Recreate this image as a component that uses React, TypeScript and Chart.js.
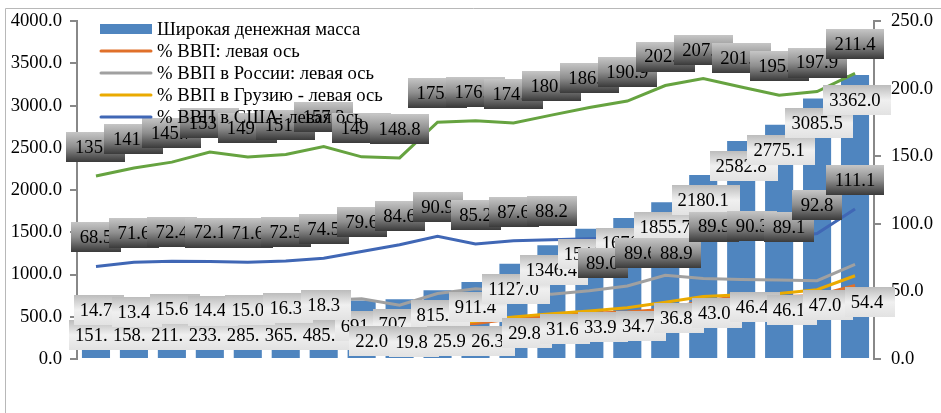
import React, { useEffect, useRef } from "react";
import { Chart, registerables } from "chart.js";

Chart.register(...registerables);

// ---------- data ----------
const categories = ["1", "2", "3", "4", "5", "6", "7", "8", "9", "10", "11", "12", "13", "14", "15", "16", "17", "18", "19", "20", "21"];

const broadMoney = [151.6, 158.3, 211.2, 233.8, 285.4, 365.1, 485.7, 691.5, 707.2, 815.5, 911.4, 1127.0, 1346.4, 1541.2, 1670.5, 1855.7, 2180.1, 2582.8, 2775.1, 3085.5, 3362.0];
const gdpShare = [14.7, 13.4, 15.6, 14.4, 15.0, 16.3, 18.3, 22.0, 19.8, 25.9, 26.3, 29.8, 31.6, 33.9, 34.7, 36.8, 43.0, 46.4, 46.1, 47.0, 54.4];
const gdpRussia = [38.0, 39.5, 40.2, 41.0, 41.8, 42.5, 43.5, 44.5, 39.8, 48.5, 52.0, 50.0, 48.0, 50.5, 54.0, 62.0, 59.5, 58.8, 58.5, 58.0, 70.0];
const gdpGeorgia = [12.1, 11.5, 13.0, 12.8, 13.9, 15.2, 17.0, 20.1, 21.3, 24.8, 28.0, 31.0, 33.5, 35.5, 38.0, 42.0, 46.3, 47.5, 48.4, 51.3, 61.6];
const gdpUSA = [68.5, 71.6, 72.4, 72.1, 71.6, 72.5, 74.5, 79.6, 84.6, 90.9, 85.2, 87.6, 88.2, 89.0, 89.6, 88.9, 89.9, 90.3, 89.1, 92.8, 111.1];
const broadMoneyIndex = [135.4, 141.3, 145.7, 153.2, 149.5, 151.4, 157.3, 149.6, 148.8, 175.3, 176.4, 174.6, 180.5, 186.2, 190.9, 202.4, 207.5, 201.3, 195.2, 197.9, 211.4];

const seriesNames = [
  "Широкая денежная масса",
  "% ВВП: левая ось",
  "% ВВП в России: левая ось",
  "% ВВП в Грузию - левая ось",
  "% ВВП в США: левая ось",
];

// ---------- styles ----------
const COLORS = {
  bar: "#4f85bf",
  orange: "#e0702a",
  gray: "#a0a0a0",
  yellow: "#eaaa00",
  blue: "#4067b5",
  green: "#66a340",
};
const FONT_FAMILY = '"Liberation Serif", "Times New Roman", serif';
const FONT_SIZE = 18.67;
const FONT = `${FONT_SIZE}px ${FONT_FAMILY}`;

// manual label placements (dx, dy from the point); default is centred 29px above
const orangeLabelOffsets: Record<number, [number, number]> = {
  7: [10, 12], 8: [12, 10], 9: [12, 17], 10: [12, 18], 11: [11, 14], 12: [11, 13],
  13: [11, 14], 14: [11, 14], 15: [11, 9], 16: [11, 12], 17: [11, 11], 18: [10, 13],
  19: [8, 10], 20: [12, 17],
};
const blueLabelOffsets: Record<number, [number, number]> = {
  13: [13, 24], 14: [13, 15], 15: [11, 14], 16: [11, -11], 17: [11, -11], 18: [10, -12],
};

function drawLabel(ctx: CanvasRenderingContext2D, text: string, cx: number, cy: number, dark: boolean) {
  ctx.font = FONT;
  const tw = ctx.measureText(text).width;
  const padL = dark ? 8.5 : 6;
  const padR = dark ? 8.5 : 11;
  const w = Math.round(tw + padL + padR);
  const h = 30;
  const x = Math.round(cx - tw / 2 - padL);
  const y = Math.round(cy - h / 2);
  const g = ctx.createLinearGradient(0, y, 0, y + h);
  if (dark) {
    g.addColorStop(0, "#c6c6c6");
    g.addColorStop(0.5, "#8e8e8e");
    g.addColorStop(1, "#3a3a3a");
  } else {
    g.addColorStop(0, "#bcbcbc");
    g.addColorStop(0.5, "#f0f0f0");
    g.addColorStop(1, "#e2e2e2");
  }
  ctx.fillStyle = g;
  ctx.fillRect(x, y, w, h);
  ctx.fillStyle = "#000";
  ctx.textAlign = "center";
  ctx.textBaseline = "middle";
  ctx.fillText(text, cx, cy + 1);
}

const overlayPlugin = {
  id: "overlay",
  beforeDraw(chart: any) {
    const ctx = chart.ctx as CanvasRenderingContext2D;
    ctx.save();
    ctx.strokeStyle = "#b8b8b8";
    ctx.lineWidth = 1;
    ctx.beginPath();
    ctx.moveTo(5.5, 420);
    ctx.lineTo(5.5, 8.5);
    ctx.lineTo(945, 8.5);
    ctx.stroke();
    ctx.restore();
  },
  afterDatasetsDraw(chart: any) {
    const ctx = chart.ctx as CanvasRenderingContext2D;
    ctx.save();
    // bar labels
    const barMeta = chart.getDatasetMeta(0);
    barMeta.data.forEach((el: any, i: number) => {
      const cy = Math.min(el.y + 25, 335);
      drawLabel(ctx, broadMoney[i].toFixed(1), el.x, cy, false);
    });
    // orange labels
    const orMeta = chart.getDatasetMeta(1);
    orMeta.data.forEach((el: any, i: number) => {
      const off = orangeLabelOffsets[i] || [0, -29];
      drawLabel(ctx, gdpShare[i].toFixed(1), el.x + off[0], el.y + off[1], false);
    });
    // blue labels
    const blMeta = chart.getDatasetMeta(4);
    blMeta.data.forEach((el: any, i: number) => {
      const off = blueLabelOffsets[i] || [0, -29];
      drawLabel(ctx, gdpUSA[i].toFixed(1), el.x + off[0], el.y + off[1], true);
    });
    // green labels
    const grMeta = chart.getDatasetMeta(5);
    grMeta.data.forEach((el: any, i: number) => {
      drawLabel(ctx, broadMoneyIndex[i].toFixed(1), el.x, el.y - 29, true);
    });

    // legend
    const legendColors = [COLORS.bar, COLORS.orange, COLORS.gray, COLORS.yellow, COLORS.blue];
    const rowY = [29, 51, 73, 95, 117];
    ctx.font = FONT;
    ctx.textAlign = "left";
    ctx.textBaseline = "middle";
    seriesNames.forEach((name, k) => {
      const y = rowY[k];
      if (k === 0) {
        ctx.fillStyle = legendColors[k];
        ctx.fillRect(100, y - 5, 52, 10);
      } else {
        ctx.strokeStyle = legendColors[k];
        ctx.lineWidth = 3;
        ctx.lineCap = "round";
        ctx.beginPath();
        ctx.moveTo(101, y);
        ctx.lineTo(151, y);
        ctx.stroke();
      }
      ctx.fillStyle = "#000";
      ctx.fillText(name, 157, y + 1);
    });
    ctx.restore();
  },
};

export default function App() {
  const ref = useRef<HTMLCanvasElement | null>(null);

  useEffect(() => {
    if (!ref.current) return;
    const lineDs = (label: string, data: number[], color: string, order: number) => ({
      type: "line" as const,
      label,
      data,
      yAxisID: "y1",
      borderColor: color,
      backgroundColor: color,
      borderWidth: 3,
      pointRadius: 0,
      tension: 0,
      fill: false,
      order,
    });
    const chart = new Chart(ref.current, {
      type: "bar",
      data: {
        labels: categories,
        datasets: [
          {
            type: "bar",
            label: seriesNames[0],
            data: broadMoney,
            yAxisID: "y",
            backgroundColor: COLORS.bar,
            barPercentage: 1,
            categoryPercentage: 0.74,
            order: 10,
          } as any,
          lineDs(seriesNames[1], gdpShare, COLORS.orange, 5),
          lineDs(seriesNames[2], gdpRussia, COLORS.gray, 4),
          lineDs(seriesNames[3], gdpGeorgia, COLORS.yellow, 3),
          lineDs(seriesNames[4], gdpUSA, COLORS.blue, 2),
          lineDs("Широкая денежная масса, % ВВП", broadMoneyIndex, COLORS.green, 1),
        ],
      },
      options: {
        responsive: false,
        animation: false,
        devicePixelRatio: 1,
        layout: { padding: { top: 18.5, bottom: 54, left: 0, right: 0 } },
        plugins: { legend: { display: false }, tooltip: { enabled: false } },
        scales: {
          x: { display: false, offset: true },
          y: {
            position: "left",
            min: 0,
            max: 4000,
            ticks: {
              stepSize: 500,
              callback: (v: any) => Number(v).toFixed(1),
              font: { family: FONT_FAMILY, size: FONT_SIZE },
              color: "#000",
              padding: 8,
            },
            grid: { drawOnChartArea: false, drawTicks: true, tickLength: 7, color: "#888", lineWidth: 2 },
            border: { display: true, color: "#888", width: 2 },
            afterFit: (s: any) => { s.width = 77; },
          },
          y1: {
            position: "right",
            min: 0,
            max: 250,
            ticks: {
              stepSize: 50,
              callback: (v: any) => Number(v).toFixed(1),
              font: { family: FONT_FAMILY, size: FONT_SIZE },
              color: "#000",
              padding: 10,
            },
            grid: { drawOnChartArea: false, drawTicks: true, tickLength: 7, color: "#888", lineWidth: 2 },
            border: { display: true, color: "#888", width: 2 },
            afterFit: (s: any) => { s.width = 67; },
          },
        },
      } as any,
      plugins: [overlayPlugin],
    });
    return () => chart.destroy();
  }, []);

  return (
    <div style={{ position: "fixed", left: 0, top: 0, width: 941, height: 413, background: "#fff" }}>
      <canvas ref={ref} width={941} height={413} style={{ display: "block" }} />
    </div>
  );
}
